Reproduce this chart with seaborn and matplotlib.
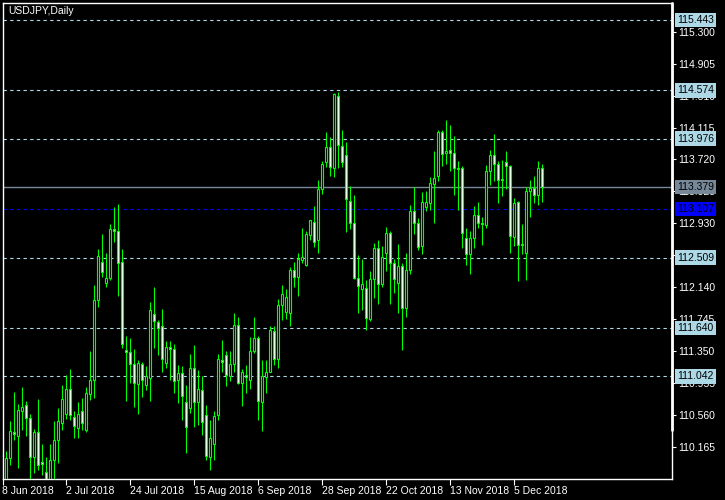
import numpy as np
import pandas as pd
import matplotlib
matplotlib.use('Agg')
import matplotlib.pyplot as plt
import seaborn as sns
from matplotlib.lines import Line2D

# USDJPY daily candles, 11 Jun 2018 .. 14 Dec 2018
opens = [109.56, 110.03, 110.36, 110.31, 110.61, 110.69, 110.53, 110.05, 110.35, 109.98,
         109.86, 109.74, 110.01, 110.26, 110.47, 110.58, 110.89, 110.54, 110.40, 110.61,
         110.38, 110.82, 111.00, 111.98, 112.46, 112.20, 112.26, 112.86, 112.84, 112.45,
         111.37, 111.34, 111.19, 110.95, 111.20, 110.93, 111.02, 111.81, 111.71, 111.66,
         111.21, 111.40, 111.38, 111.00, 111.08, 110.72, 110.65, 111.14, 110.73, 110.87,
         110.57, 110.05, 110.21, 110.56, 111.24, 111.30, 111.04, 111.19, 111.68, 110.96,
         111.06, 111.00, 111.36, 111.51, 110.73, 111.03, 111.10, 111.60, 111.25, 111.92,
         111.84, 111.83, 112.36, 112.27, 112.48, 112.42, 112.79, 112.95, 112.72, 113.35,
         113.69, 113.87, 113.61, 114.51, 113.89, 113.78, 113.21, 112.94, 112.26, 112.12,
         112.13, 111.75, 112.25, 112.63, 112.18, 112.57, 112.81, 112.44, 112.20, 112.40,
         111.89, 112.35, 113.08, 112.93, 112.65, 113.13, 113.18, 113.42, 113.52, 114.06,
         113.80, 113.84, 113.80, 113.62, 113.62, 112.75, 112.55, 112.75, 113.04, 112.93,
         112.91, 113.58, 113.77, 113.67, 113.48, 113.69, 113.64, 112.76, 113.19, 112.66,
         112.57, 113.33, 113.37, 113.28, 113.62]
highs = [110.12, 110.49, 110.85, 110.70, 110.91, 110.74, 110.58, 110.39, 110.76, 110.21,
         110.05, 110.21, 110.49, 110.65, 110.94, 111.06, 111.13, 110.61, 110.72, 110.78,
         110.91, 111.35, 112.17, 112.62, 112.80, 112.56, 112.92, 113.13, 113.17, 112.62,
         111.54, 111.52, 111.38, 111.24, 111.22, 111.17, 111.96, 112.15, 111.74, 111.87,
         111.48, 111.48, 111.44, 111.18, 111.17, 110.93, 111.32, 111.43, 111.12, 111.04,
         110.69, 110.50, 110.61, 111.32, 111.49, 111.35, 111.36, 111.83, 111.77, 111.13,
         111.18, 111.53, 111.77, 111.54, 111.24, 111.24, 111.66, 111.66, 112.00, 112.17,
         112.12, 112.39, 112.45, 112.57, 112.87, 112.84, 112.97, 113.14, 113.47, 113.70,
         114.06, 114.00, 114.54, 114.55, 114.09, 113.94, 113.39, 113.28, 112.54, 112.49,
         112.23, 112.34, 112.69, 112.73, 112.65, 112.89, 112.84, 112.49, 112.68, 112.44,
         112.56, 113.16, 113.38, 113.00, 113.32, 113.33, 113.51, 113.82, 114.08, 114.08,
         114.21, 114.15, 114.01, 113.70, 113.64, 112.87, 112.84, 113.14, 113.19, 113.01,
         113.65, 113.84, 114.03, 113.70, 113.71, 113.82, 113.65, 113.25, 113.21, 112.92,
         113.38, 113.47, 113.52, 113.70, 113.67]
lows = [109.50, 109.95, 110.26, 109.91, 110.38, 110.30, 109.76, 109.85, 109.88, 109.82,
        109.60, 109.55, 109.70, 109.97, 110.38, 110.52, 110.50, 110.28, 110.28, 110.38,
        110.35, 110.75, 110.77, 111.90, 112.27, 112.15, 112.23, 112.70, 112.04, 111.39,
        110.74, 110.96, 110.66, 110.58, 110.79, 110.87, 110.74, 111.39, 111.31, 111.09,
        111.14, 111.00, 110.83, 110.71, 110.50, 110.09, 110.59, 110.42, 110.44, 110.32,
        110.01, 109.89, 110.01, 110.50, 111.10, 110.92, 110.98, 111.10, 110.95, 110.68,
        110.84, 110.89, 111.33, 110.50, 110.37, 110.84, 111.10, 111.18, 111.15, 111.74,
        111.75, 111.66, 112.15, 112.04, 112.44, 112.41, 112.73, 112.64, 112.56, 113.30,
        113.63, 113.52, 113.51, 113.62, 113.63, 112.82, 112.86, 112.25, 111.83, 111.86,
        111.62, 111.72, 112.01, 111.93, 112.14, 112.34, 111.94, 112.07, 111.82, 111.37,
        111.77, 112.30, 112.80, 112.60, 112.55, 113.08, 113.10, 112.94, 113.46, 113.64,
        113.66, 113.58, 113.28, 113.10, 112.63, 112.42, 112.30, 112.63, 112.88, 112.66,
        112.87, 113.41, 113.45, 113.18, 113.27, 113.36, 112.57, 112.65, 112.22, 112.55,
        112.23, 113.01, 113.18, 113.16, 113.20]
closes = [110.03, 110.37, 110.33, 110.63, 110.66, 110.53, 110.05, 110.35, 109.95, 109.96,
          109.74, 110.01, 110.26, 110.49, 110.76, 110.89, 110.56, 110.43, 110.58, 110.46,
          110.84, 111.00, 111.99, 112.53, 112.33, 112.26, 112.86, 112.84, 112.44, 111.44,
          111.34, 111.19, 110.96, 111.21, 111.00, 111.05, 111.86, 111.73, 111.64, 111.26,
          111.40, 111.38, 110.98, 111.08, 110.80, 110.42, 111.14, 110.73, 110.88, 110.48,
          110.06, 110.28, 110.55, 111.26, 111.22, 111.06, 111.19, 111.67, 110.96, 111.09,
          111.03, 111.35, 111.52, 110.74, 111.05, 111.10, 111.62, 111.25, 111.92, 112.06,
          112.02, 112.36, 112.27, 112.49, 112.51, 112.80, 112.97, 112.70, 113.35, 113.67,
          113.88, 113.63, 114.53, 113.90, 113.69, 113.23, 112.94, 112.26, 112.16, 112.18,
          111.76, 112.24, 112.63, 112.18, 112.52, 112.81, 112.44, 112.24, 112.40, 111.88,
          112.35, 113.08, 112.93, 112.64, 113.19, 113.19, 113.43, 113.49, 114.06, 113.79,
          113.83, 113.80, 113.61, 113.60, 112.81, 112.55, 112.75, 113.04, 112.93, 112.92,
          113.58, 113.77, 113.67, 113.47, 113.47, 113.64, 112.77, 113.18, 112.66, 112.68,
          113.33, 113.37, 113.28, 113.61, 113.379]

first_day = '2018-06-11'
date_ticks = ['2018-06-08', '2018-07-02', '2018-07-24', '2018-08-15', '2018-09-06',
              '2018-09-28', '2018-10-22', '2018-11-13', '2018-12-05']
date_labels = ['8 Jun 2018', '2 Jul 2018', '24 Jul 2018', '15 Aug 2018', '6 Sep 2018',
               '28 Sep 2018', '22 Oct 2018', '13 Nov 2018', '5 Dec 2018']

# horizontal levels drawn on the chart
levels = [115.443, 114.574, 113.976, 112.509, 111.640, 111.042]
bid_price = 113.379
blue_level = 113.107
price_ticks = [115.300, 114.905, 114.510, 114.115, 113.720, 113.325, 112.930,
               112.535, 112.140, 111.745, 111.350, 110.955, 110.560, 110.165]

sns.set_style('dark', rc={'axes.facecolor': 'black', 'figure.facecolor': 'black',
                          'axes.edgecolor': 'white', 'axes.grid': False})
plt.rcParams['font.family'] = ['Liberation Sans', 'DejaVu Sans']

df = pd.DataFrame({'open': opens, 'high': highs, 'low': lows, 'close': closes})
df['x'] = np.arange(len(df))
df['bottom'] = df[['open', 'close']].min(axis=1)
df['height'] = (df['close'] - df['open']).abs()
df['fill'] = np.where(df['close'] < df['open'], 'white', 'black')

GREEN = '#00ff00'
LBLUE = '#add8e6'
FS = 7.5

fig = plt.figure(figsize=(7.25, 5.0), dpi=100)
ax = fig.add_axes([2.5 / 725, 21 / 500, 669.5 / 725, 476.5 / 500])

ax.vlines(df['x'], df['low'], df['high'], color=GREEN, lw=0.8, zorder=3)
ax.bar(df['x'], df['height'], bottom=df['bottom'], width=0.5, color=df['fill'],
       edgecolor=GREEN, linewidth=0.8, zorder=4)

for lv in levels:
    ax.axhline(lv, color=LBLUE, lw=0.8, ls=(0, (3, 3)), zorder=2)
ax.axhline(blue_level, color='#0000ff', lw=0.8, ls=(0, (3, 3)), zorder=2)
ax.axhline(bid_price, color='#778899', lw=1.0, zorder=2)

ax.set_xlim(-0.95, 166.4)
ax.set_ylim(109.774, 115.659)

for sp in ax.spines.values():
    sp.set_color('white')
    sp.set_linewidth(1.0)

ax.yaxis.tick_right()
ax.set_yticks(price_ticks)
ax.set_yticklabels([f'{p:.3f}' for p in price_ticks])
ax.tick_params(axis='y', colors='white', labelcolor='white', length=3, width=0.8,
               direction='out', labelsize=FS, pad=1.5, right=True, left=False)

tick_pos = [np.busday_count(first_day, d) for d in date_ticks]
ax.set_xticks(tick_pos)
ax.set_xticklabels(date_labels, ha='left')
ax.tick_params(axis='x', colors='white', labelcolor='white', length=4, width=0.8,
               direction='out', labelsize=FS, pad=1.0, bottom=True)

# price boxes on the right scale (they cover the tick labels underneath, as in MT4)
ytr = ax.get_yaxis_transform()
box_x = 1.0075
box_style = 'square,pad=0.22'
for lv in levels:
    ax.text(box_x, lv, f'{lv:.3f}', transform=ytr, ha='left', va='center', fontsize=FS,
            color='black', zorder=10, clip_on=False,
            bbox=dict(boxstyle=box_style, facecolor=LBLUE, edgecolor='none'))
ax.text(box_x, bid_price, f'{bid_price:.3f}', transform=ytr, ha='left', va='center',
        fontsize=FS, color='black', zorder=10, clip_on=False,
        bbox=dict(boxstyle=box_style, facecolor='#778899', edgecolor='none'))
ax.text(box_x, blue_level, f'{blue_level:.3f}', transform=ytr, ha='left', va='center',
        fontsize=FS, color='black', zorder=10, clip_on=False,
        bbox=dict(boxstyle=box_style, facecolor='#0000ff', edgecolor='none'))

ax.text(6 / 669.5, 1 - 4 / 476.5, 'USDJPY,Daily', transform=ax.transAxes,
        ha='left', va='top', color='white', fontsize=FS, zorder=10)

# thick part of the right scale line
fig.add_artist(Line2D([672 / 725, 672 / 725], [1 - 2.5 / 500, 1 - 430 / 500],
                      color='white', lw=2.0))

fig.savefig('out.png', dpi=100, facecolor='black')
